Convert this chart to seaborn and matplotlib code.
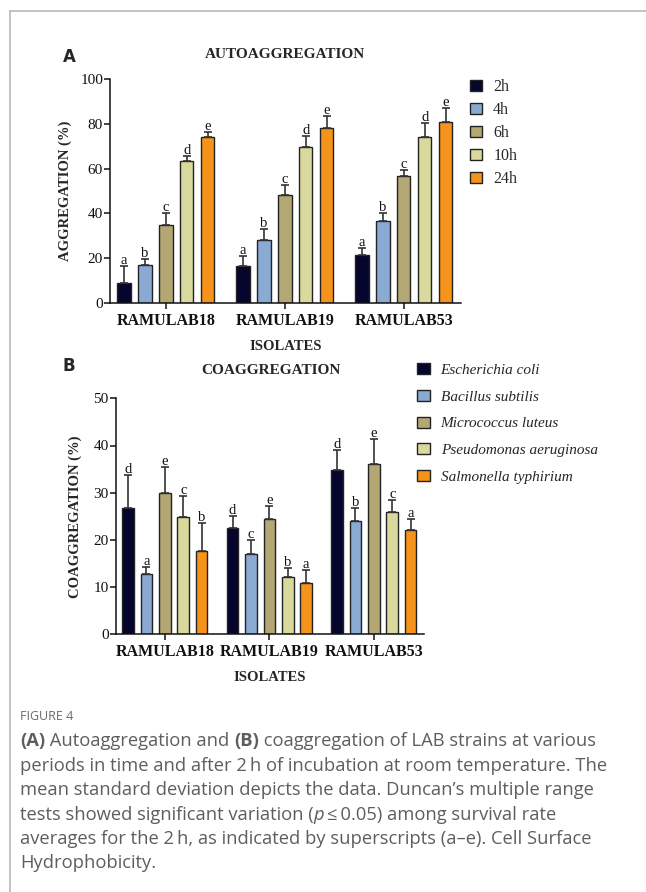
import numpy as np
import pandas as pd
import seaborn as sns
import matplotlib.pyplot as plt
from matplotlib.lines import Line2D

# ---- data ----
isolates = ["RAMULAB18", "RAMULAB19", "RAMULAB53"]

times = ["2h", "4h", "6h", "10h", "24h"]
auto_mean = {
    "2h":  [8.9, 16.4, 21.5],
    "4h":  [17.1, 28.1, 36.5],
    "6h":  [35.0, 48.2, 56.5],
    "10h": [63.2, 69.5, 74.3],
    "24h": [74.3, 78.0, 81.0],
}
auto_sd = {
    "2h":  [7.5, 4.4, 3.2],
    "4h":  [2.5, 4.9, 3.8],
    "6h":  [5.2, 4.6, 2.9],
    "10h": [2.6, 4.9, 6.2],
    "24h": [2.2, 5.3, 6.2],
}
auto_letters = {
    "2h":  ["a", "a", "a"],
    "4h":  ["b", "b", "b"],
    "6h":  ["c", "c", "c"],
    "10h": ["d", "d", "d"],
    "24h": ["e", "e", "e"],
}

strains = ["Escherichia coli", "Bacillus subtilis", "Micrococcus luteus",
           "Pseudomonas aeruginosa", "Salmonella typhirium"]
coag_mean = {
    "Escherichia coli":       [26.8, 22.5, 34.8],
    "Bacillus subtilis":      [12.7, 17.0, 24.1],
    "Micrococcus luteus":     [29.9, 24.4, 36.1],
    "Pseudomonas aeruginosa": [24.9, 12.2, 26.0],
    "Salmonella typhirium":   [17.7, 10.8, 22.2],
}
coag_sd = {
    "Escherichia coli":       [7.0, 2.6, 4.3],
    "Bacillus subtilis":      [1.6, 3.0, 2.6],
    "Micrococcus luteus":     [5.6, 2.8, 5.2],
    "Pseudomonas aeruginosa": [4.3, 1.9, 2.5],
    "Salmonella typhirium":   [5.8, 2.8, 2.2],
}
coag_letters = {
    "Escherichia coli":       ["d", "d", "d"],
    "Bacillus subtilis":      ["a", "c", "b"],
    "Micrococcus luteus":     ["e", "e", "e"],
    "Pseudomonas aeruginosa": ["c", "b", "c"],
    "Salmonella typhirium":   ["b", "a", "a"],
}

colors = ["#05052e", "#8aaad4", "#b3a774", "#d9d99d", "#f5931a"]

SERIF = "Liberation Serif"
W, H = 646, 892

sns.set_style("ticks")
plt.rcParams["font.family"] = [SERIF, "DejaVu Serif"]

fig = plt.figure(figsize=(W / 100, H / 100), dpi=100)


def px_axes(left, right, top, bottom):
    return fig.add_axes([left / W, 1 - bottom / H, (right - left) / W, (bottom - top) / H])


def panel(ax, means, sds, letters, levels, ymax, ystep):
    rows = []
    for lv in levels:
        for iso, v in zip(isolates, means[lv]):
            rows.append({"isolate": iso, "level": lv, "value": v})
    df = pd.DataFrame(rows)
    sns.barplot(data=df, x="isolate", y="value", hue="level", order=isolates,
                hue_order=levels, palette=colors, saturation=1, width=0.88, gap=0.37,
                edgecolor="#222222", linewidth=1.0, errorbar=None, ax=ax)
    for lv, cont in zip(levels, ax.containers):
        for bar, sd, let in zip(cont, sds[lv], letters[lv]):
            xc = bar.get_x() + bar.get_width() / 2
            top = bar.get_height()
            ax.errorbar(xc, top, yerr=[[0], [sd]], fmt="none", ecolor="#333333",
                        elinewidth=1.2, capsize=3, capthick=1.2, zorder=3)
            ax.text(xc, top + sd - ymax * 0.004, let, ha="center", va="bottom",
                    fontsize=10.5, color="#111111")
    ax.set_ylim(0, ymax)
    ax.set_xlim(-0.47, 2.48)
    ax.set_yticks(np.arange(0, ymax + 1, ystep))
    sns.despine(ax=ax)
    for s in ["left", "bottom"]:
        ax.spines[s].set_linewidth(1.1)
        ax.spines[s].set_color("#111111")
    ax.tick_params(axis="y", labelsize=11, length=4, width=1.1, pad=1, colors="#111111")
    ax.tick_params(axis="x", labelsize=11.5, length=4, width=1.1, pad=3, colors="#111111")
    for t in ax.get_xticklabels():
        t.set_fontweight("bold")
    ax.set_xlabel("ISOLATES", fontsize=10.5, fontweight="bold", labelpad=8)
    return ax


# ---- panel A ----
axA = px_axes(110, 461, 79, 303)
panel(axA, auto_mean, auto_sd, auto_letters, times, 100, 20)
axA.set_ylabel("AGGREGATION (%)", fontsize=10.5, fontweight="bold", labelpad=6)
axA.legend(loc="upper left", bbox_to_anchor=(470 / W, 1 - 79 / H),
           bbox_transform=fig.transFigure, frameon=False, fontsize=11.5,
           handlelength=0.75, handleheight=0.75, handletextpad=0.7,
           labelspacing=0.44, borderaxespad=0, borderpad=0)
fig.text(285 / W, 1 - 54 / H, "AUTOAGGREGATION", ha="center", va="center",
         fontsize=11, fontweight="bold")
fig.text(63 / W, 1 - 57 / H, "A", ha="left", va="center", fontsize=12,
         fontweight="bold", family="DejaVu Sans")

# ---- panel B ----
axB = px_axes(115.7, 424, 398.3, 634.3)
panel(axB, coag_mean, coag_sd, coag_letters, strains, 50, 10)
axB.set_ylabel("COAGGREGATION (%)", fontsize=10.5, fontweight="bold", labelpad=8)
legB = axB.legend(loc="upper left", bbox_to_anchor=(417 / W, 1 - 363 / H),
                  bbox_transform=fig.transFigure, frameon=False, fontsize=11,
                  handlelength=0.85, handleheight=0.75, handletextpad=0.7,
                  labelspacing=0.84, borderaxespad=0, borderpad=0)
for t in legB.get_texts():
    t.set_fontstyle("italic")
fig.text(271 / W, 1 - 370 / H, "COAGGREGATION", ha="center", va="center",
         fontsize=11, fontweight="bold")
fig.text(62 / W, 1 - 366 / H, "B", ha="left", va="center", fontsize=12,
         fontweight="bold", family="DejaVu Sans")

# ---- frame lines ----
fig.add_artist(Line2D([10 / W, 1], [1 - 11 / H, 1 - 11 / H], color="#bdbdbd", lw=1.3,
                      transform=fig.transFigure))
fig.add_artist(Line2D([10 / W, 10 / W], [1 - 11 / H, 0], color="#bdbdbd", lw=1.3,
                      transform=fig.transFigure))

# ---- caption ----
CAP = "Open Sans"
cap_color = "#5e5e5e"
fig.text(20 / W, 1 - 717 / H, "FIGURE 4", fontsize=9, color="#6a6a6a",
         family=CAP, va="center")

caption_lines = [
    [("(A)", "bold", "normal"), (" Autoaggregation and ", "normal", "normal"),
     ("(B)", "bold", "normal"), (" coaggregation of LAB strains at various", "normal", "normal")],
    [("periods in time and after 2\u2009h of incubation at room temperature. The", "normal", "normal")],
    [("mean standard deviation depicts the data. Duncan\u2019s multiple range", "normal", "normal")],
    [("tests showed significant variation (", "normal", "normal"), ("p", "normal", "italic"),
     ("\u2009\u2264\u20090.05) among survival rate", "normal", "normal")],
    [("averages for the 2\u2009h, as indicated by superscripts (a\u2013e). Cell Surface", "normal", "normal")],
    [("Hydrophobicity.", "normal", "normal")],
]
line_y = [741, 766, 790, 815, 839, 863]

renderer = fig.canvas.get_renderer()
for runs, yy in zip(caption_lines, line_y):
    x = 20
    for txt, wt, st in runs:
        t = fig.text(x / W, 1 - yy / H, txt, fontsize=13.2, color=cap_color,
                     family=[CAP, "DejaVu Sans"], fontweight=wt, fontstyle=st,
                     va="center", ha="left")
        bb = t.get_window_extent(renderer=renderer)
        x += bb.width

fig.savefig("out.png", dpi=100)
